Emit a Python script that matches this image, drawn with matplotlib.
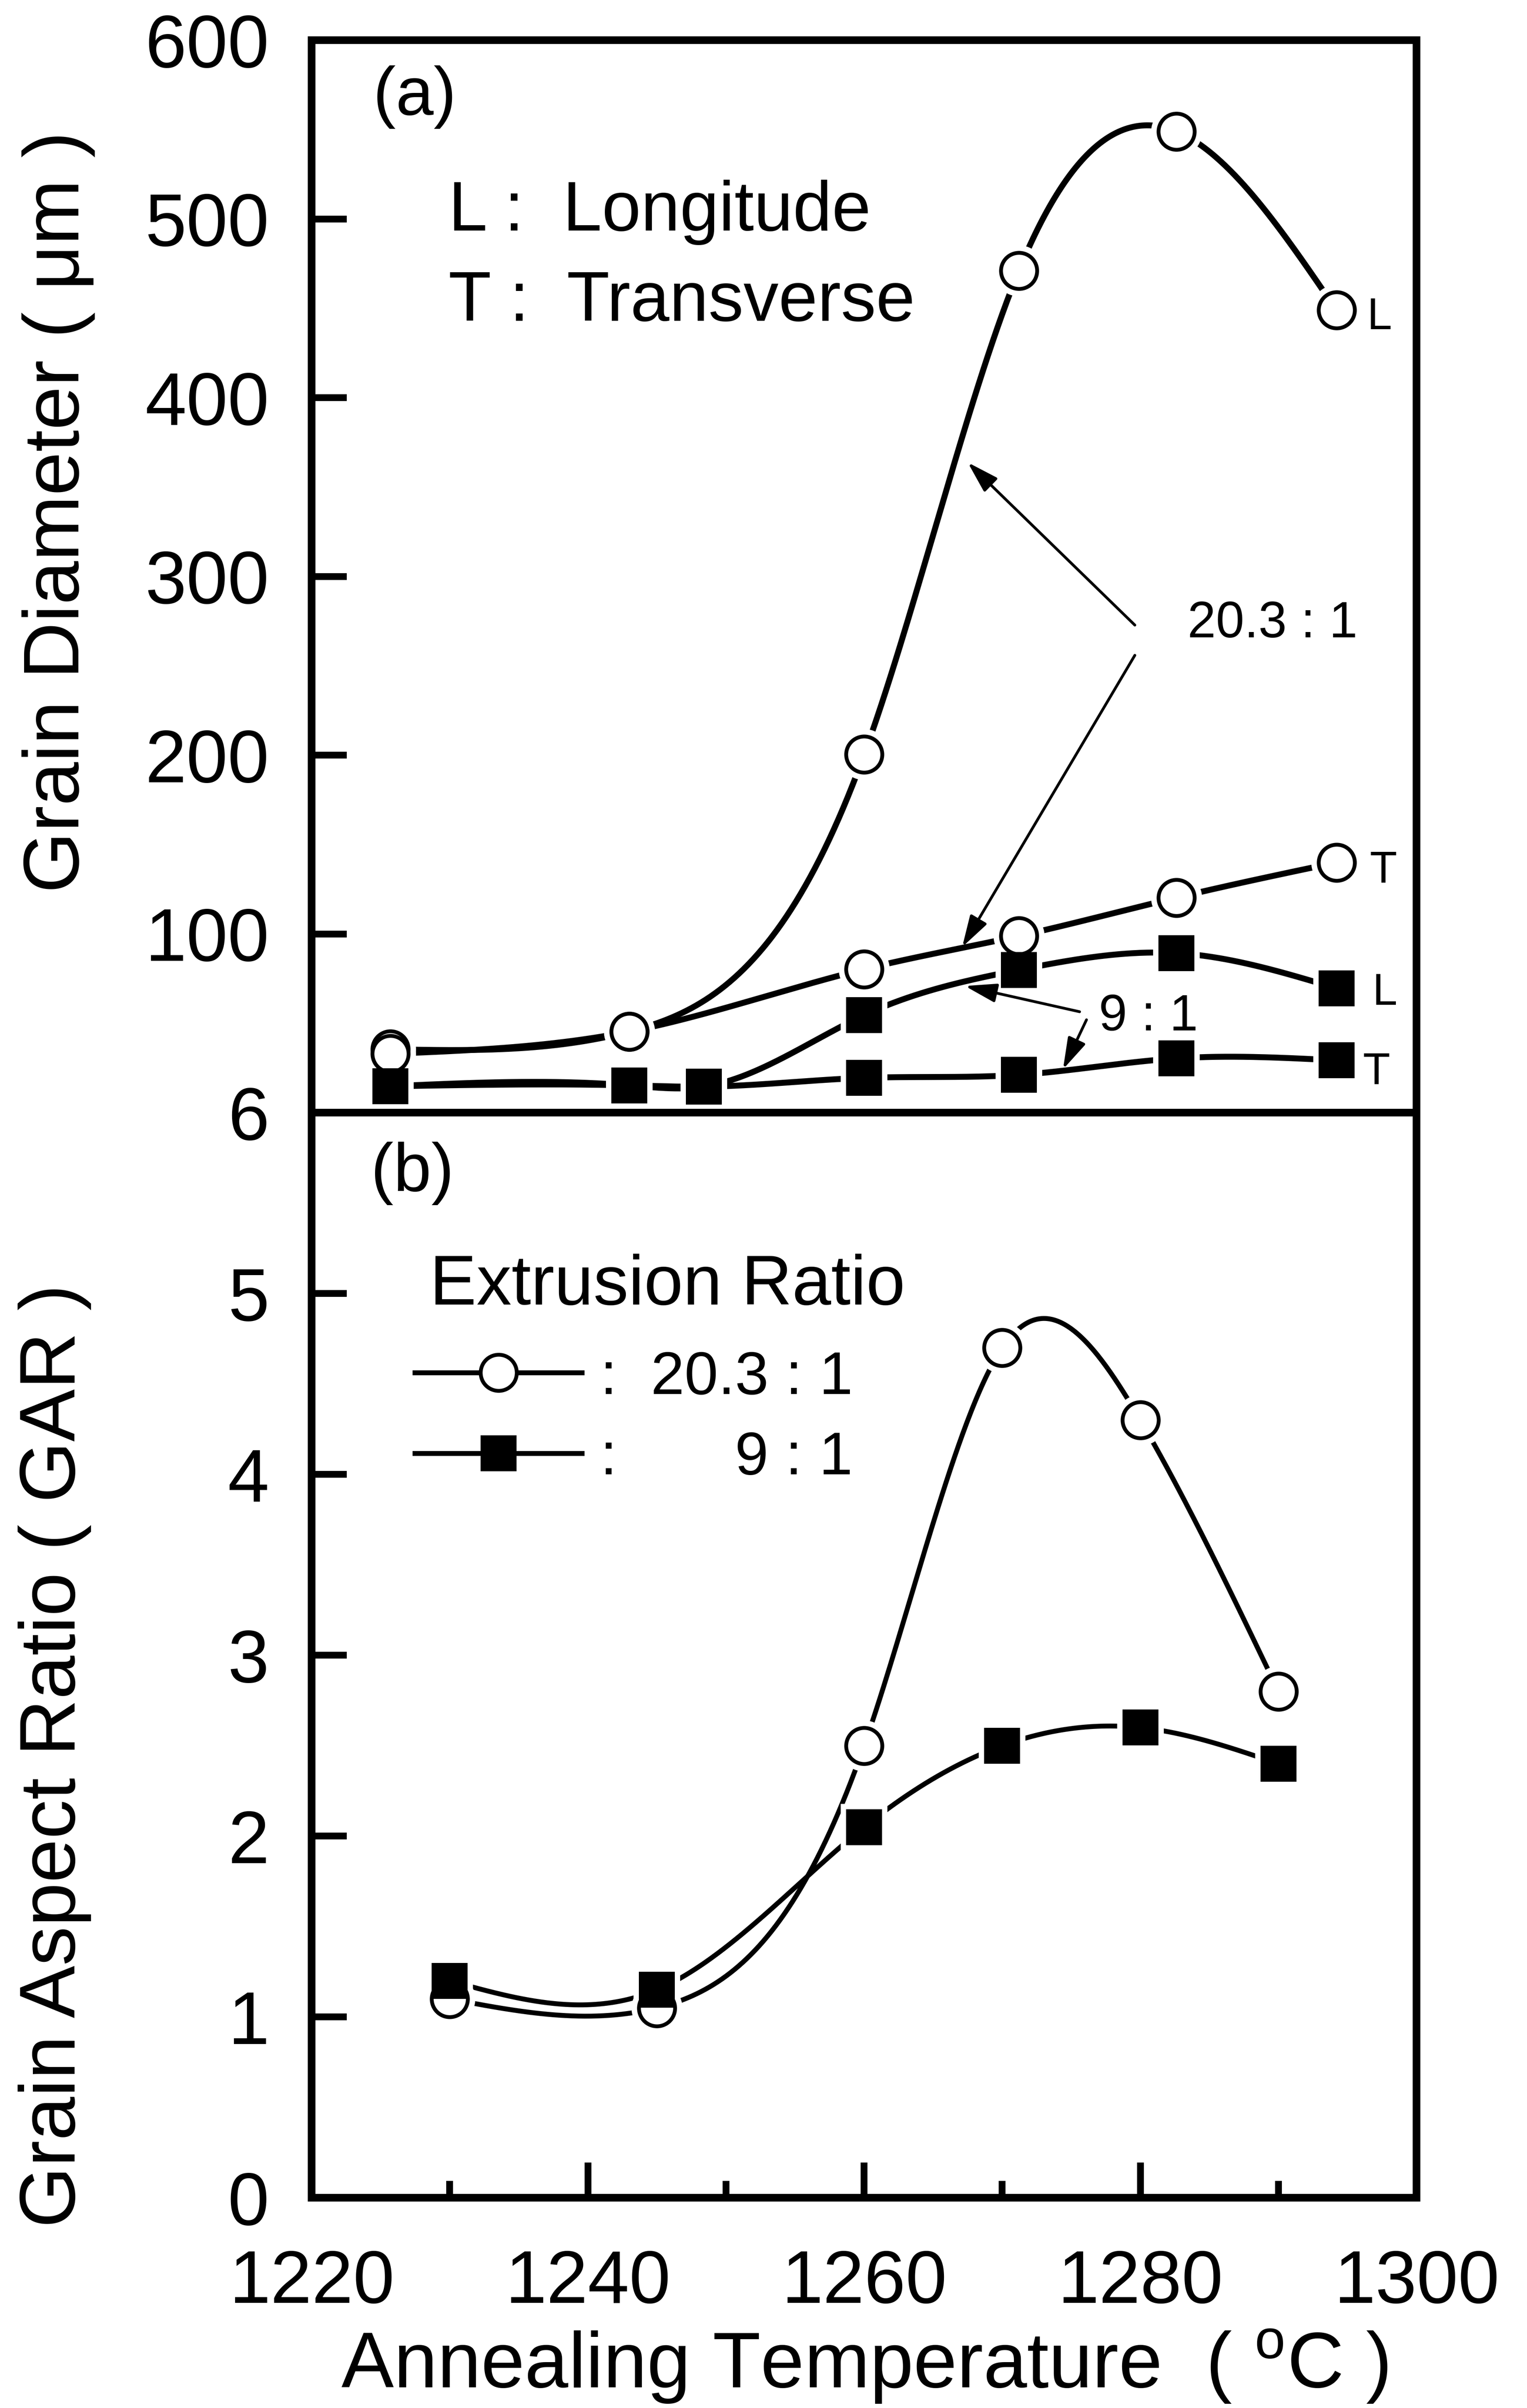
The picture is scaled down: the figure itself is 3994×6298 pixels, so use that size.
import numpy as np
import matplotlib
matplotlib.use('Agg')
import matplotlib.pyplot as plt
from matplotlib.lines import Line2D

plt.rcParams['font.family'] = ['Liberation Sans', 'DejaVu Sans']

# ---- data -----------------------------------------------------------------
# (a) grain diameter, um
temp_a_circ = [1225.7, 1243.0, 1260.0, 1271.2, 1282.6, 1294.2]
temp_a_sq = [1225.7, 1243.0, 1248.4, 1260.0, 1271.2, 1282.6, 1294.2]
d203_L = [35.5, 45.4, 200.4, 471.0, 549.0, 449.0]
d203_T = [33.0, 45.4, 80.3, 98.9, 120.3, 140.0]
d91_L = [14.8, 15.3, 14.6, 54.6, 79.9, 89.3, 69.6]
d91_T = [14.8, 15.3, 14.6, 19.5, 21.2, 30.4, 29.3]

# (b) grain aspect ratio
temp_b = [1230, 1245, 1260, 1270, 1280, 1290]
gar_203 = [1.10, 1.05, 2.50, 4.70, 4.30, 2.80]
gar_91 = [1.20, 1.15, 2.05, 2.50, 2.60, 2.40]

yticks_a = [100, 200, 300, 400, 500, 600]
yticks_b = [0, 1, 2, 3, 4, 5, 6]
xticks = [1220, 1240, 1260, 1280, 1300]
xticks_minor = [1230, 1250, 1270, 1290]


def natural_spline(x, y, n=400):
    """Natural cubic spline through the points, for drawing smooth curves."""
    x = np.asarray(x, float)
    y = np.asarray(y, float)
    k = len(x)
    h = np.diff(x)
    A = np.zeros((k, k))
    r = np.zeros(k)
    A[0, 0] = A[-1, -1] = 1.0
    for i in range(1, k - 1):
        A[i, i - 1] = h[i - 1]
        A[i, i] = 2 * (h[i - 1] + h[i])
        A[i, i + 1] = h[i]
        r[i] = 6 * ((y[i + 1] - y[i]) / h[i] - (y[i] - y[i - 1]) / h[i - 1])
    M = np.linalg.solve(A, r)
    xs = np.linspace(x[0], x[-1], n)
    idx = np.clip(np.searchsorted(x, xs) - 1, 0, k - 2)
    x0, x1 = x[idx], x[idx + 1]
    hh = x1 - x0
    a = (x1 - xs) / hh
    b = (xs - x0) / hh
    ys = (a * y[idx] + b * y[idx + 1]
          + ((a ** 3 - a) * M[idx] + (b ** 3 - b) * M[idx + 1]) * hh ** 2 / 6)
    return xs, ys


def series(ax, x, y, marker, filled, lw, ms):
    xs, ys = natural_spline(x, y)
    ax.plot(xs, ys, color='k', lw=lw, zorder=2, solid_capstyle='butt')
    # white halo leaves the small gap between line and symbol
    ax.plot(x, y, ls='none', marker=marker, ms=ms + 7, mfc='white',
            mec='white', mew=0, zorder=2.2)
    return dict(x=x, y=y, marker=marker, ms=ms,
                mfc='k' if filled else 'white')


def draw_markers(ax, items):
    for it in items:
        ax.plot(it['x'], it['y'], ls='none', marker=it['marker'], ms=it['ms'],
                mfc=it['mfc'], mec='k', mew=1.8, zorder=2.8, clip_on=False)


fig = plt.figure(figsize=(3994 / 400, 6298 / 400), dpi=400)
ax_a = fig.add_axes([0.2041, 0.5379, 0.7236, 0.4454])
ax_b = fig.add_axes([0.2041, 0.0873, 0.7236, 0.4506], sharex=ax_a)

for ax in (ax_a, ax_b):
    for s in ax.spines.values():
        s.set_linewidth(3.6)
    ax.tick_params(axis='both', which='major', direction='in', length=16.5,
                   width=3.2, labelsize=35, pad=20)
    ax.tick_params(axis='both', which='minor', direction='in', length=8,
                   width=3.2)
    ax.tick_params(right=False, top=False)

# ---- (a) -------------------------------------------------------------------
items = [
    series(ax_a, temp_a_circ, d203_L, 'o', False, 2.8, 17),
    series(ax_a, temp_a_circ, d203_T, 'o', False, 2.8, 17),
    series(ax_a, temp_a_sq, d91_L, 's', True, 2.8, 15),
    series(ax_a, temp_a_sq, d91_T, 's', True, 2.8, 15),
]
draw_markers(ax_a, items)

ax_a.set_ylim(0, 600)
ax_a.set_yticks(yticks_a)
ax_a.tick_params(axis='x', which='both', bottom=False, labelbottom=False)

ax_a.text(0.0557, 0.9305, '(a)', transform=ax_a.transAxes, fontsize=32,
          va='baseline')
ax_a.text(1229.9, 493.5, 'L :  Longitude', fontsize=33, va='baseline')
ax_a.text(1229.9, 443.0, 'T :  Transverse', fontsize=33, va='baseline')

for lab, xx, yy in [('L', 1296.4, 438.3), ('T', 1296.6, 128.7),
                    ('L', 1296.8, 60.4), ('T', 1296.1, 16.1)]:
    ax_a.text(xx, yy, lab, fontsize=21, va='baseline')

ax_a.text(1283.4, 266, '20.3 : 1', fontsize=24, va='baseline')
ax_a.text(1277.0, 46, '9 : 1', fontsize=24, va='baseline')

arrow = dict(arrowstyle='-|>,head_length=0.9,head_width=0.27', lw=1.3,
             color='k', shrinkA=0, shrinkB=0, mutation_scale=14)
for tail, head in [((1279.6, 272.8), (1267.5, 363.8)),
                   ((1279.6, 255.9), (1267.1, 92.7)),
                   ((1275.6, 56.5), (1267.3, 70.9)),
                   ((1276.1, 52.0), (1274.4, 24.3))]:
    ax_a.annotate('', xy=head, xytext=tail, arrowprops=arrow, zorder=2.4)

# ---- (b) -------------------------------------------------------------------
items = [
    series(ax_b, temp_b, gar_203, 'o', False, 2.3, 17),
    series(ax_b, temp_b, gar_91, 's', True, 2.3, 15),
]
draw_markers(ax_b, items)

ax_b.set_ylim(0, 6)
ax_b.set_yticks(yticks_b)
ax_b.set_xlim(1220, 1300)
ax_b.set_xticks(xticks)
ax_b.set_xticks(xticks_minor, minor=True)
ax_b.tick_params(axis='x', which='major', pad=24)

ax_b.text(0.0536, 0.928, '(b)', transform=ax_b.transAxes, fontsize=32,
          va='baseline')
ax_b.text(0.107, 0.8232, 'Extrusion Ratio', transform=ax_b.transAxes,
          fontsize=33, va='baseline')

h_203 = Line2D([], [], color='k', lw=2.3, marker='o', ms=17, mfc='white',
               mec='k', mew=1.8)
h_91 = Line2D([], [], color='k', lw=2.3, marker='s', ms=15, mfc='k',
              mec='k', mew=1.8)
ax_b.legend([h_203, h_91], [':  20.3 : 1', ':       9 : 1'],
            loc='upper left', bbox_to_anchor=(0.0934, 0.781), frameon=False,
            fontsize=28.5, handlelength=2.76, handletextpad=0.3, numpoints=1,
            borderpad=0, borderaxespad=0, labelspacing=0.4)

# ---- axis titles -----------------------------------------------------------
fig.text(0.0383, 0.7874, 'Grain Diameter ( \u03bcm )', rotation=90,
         ha='center', va='center', fontsize=37)
fig.text(0.0358, 0.2709, 'Grain Aspect Ratio ( GAR )', rotation=90,
         ha='center', va='center', fontsize=37)
fig.text(0.5660, 0.0083,
         r'Annealing Temperature  ( $\mathregular{^{o}}$C )',
         ha='center', va='baseline', fontsize=37)

fig.savefig('out.png', dpi=400, facecolor='white')
